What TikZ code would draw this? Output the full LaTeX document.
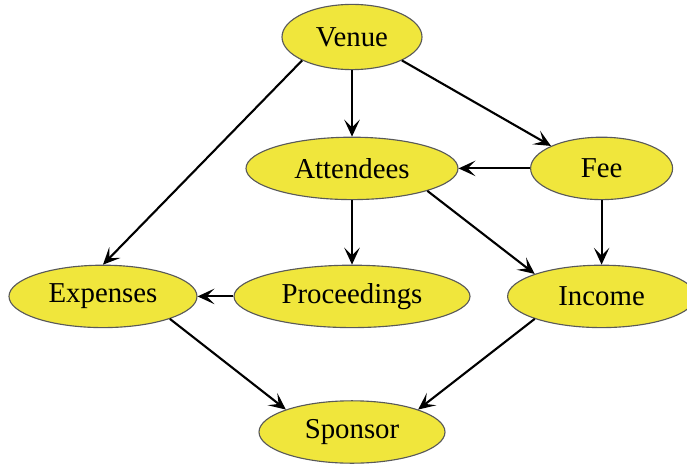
\documentclass[tikz,border=0pt]{standalone}
\usepackage{fontspec}
\setmainfont{Liberation Serif}
\usetikzlibrary{shapes.geometric,arrows.meta}
\definecolor{nodeyellow}{RGB}{240,230,60}
\begin{document}
\begin{tikzpicture}[
		item/.style={ellipse, draw=black!65, line width=0.8pt, fill=nodeyellow, inner sep=0pt, minimum height=1.56cm, font=\fontsize{20.5}{24}\selectfont},
		link/.style={-{Stealth[length=12pt,width=11pt,inset=5.5pt]}, line width=1.5pt}
	]
	\useasboundingbox (0,0) rectangle (17.175,11.65);
	\node[item, minimum width=3.5cm, minimum height=1.63cm] (venue) at (8.8,10.725) {Venue};
	\node[item, minimum width=5.3cm] (attendees) at (8.8,7.44) {Attendees};
	\node[item, minimum width=3.55cm] (fee) at (15.04,7.44) {Fee};
	\node[item, minimum width=4.7cm] (expenses) at (2.575,4.24) {Expenses};
	\node[item, minimum width=5.9cm] (proceedings) at (8.8,4.24) {Proceedings};
	\node[item, minimum width=4.7cm] (income) at (15.04,4.24) {Income};
	\node[item, minimum width=4.65cm] (sponsor) at (8.8,0.85) {Sponsor};
	% connectors
	\draw[link] (venue.south) -- (attendees.north);
	\draw[link] (venue.south east) -- (fee.north west);
	\draw[link] (venue.south west) -- (expenses.north);
	\draw[link] (fee.west) -- (attendees.east);
	\draw[link] (attendees.south) -- (proceedings.north);
	\draw[link] (attendees.south east) -- (income.north west);
	\draw[link] (fee.south) -- (income.north);
	\draw[link] (proceedings.west) -- (expenses.east);
	\draw[link] (expenses.south east) -- (sponsor.north west);
	\draw[link] (income.south west) -- (sponsor.north east);
\end{tikzpicture}
\end{document}
